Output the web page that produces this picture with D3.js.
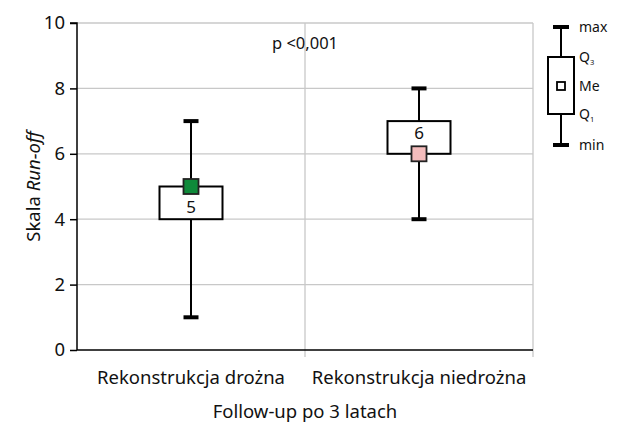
<!DOCTYPE html>
<html>
<head>
<meta charset="utf-8">
<script src="https://cdn.jsdelivr.net/npm/d3@7"></script>
<style>
  body { margin: 0; background: #fff; }
  svg text { font-family: "Noto Sans", "Open Sans", sans-serif; fill: #111; }
</style>
</head>
<body>
<svg id="chart" width="619" height="424"></svg>
<script>
// Run-off scale after 3 years of follow-up
const categories = ["Rekonstrukcja drożna", "Rekonstrukcja niedrożna"];
const minValues = [1, 4];
const q1Values = [4, 6];
const medianValues = [5, 6];
const q3Values = [5, 7];
const maxValues = [7, 8];
const medianColors = ["#0f8a3a", "#f4bcbc"];
const yTicks = [0, 2, 4, 6, 8, 10];
const legendLabels = ["max", "Q3", "Me", "Q1", "min"];

const svg = d3.select("#chart");
const margin = { left: 77, right: 86, top: 23, bottom: 74 };
const W = 619, H = 424;

const x = d3.scaleBand().domain(categories).range([margin.left, W - margin.right]);
const y = d3.scaleLinear().domain([0, 10]).range([H - margin.bottom, margin.top]);

// grid
const grid = svg.append("g");
grid.selectAll("line.h").data(yTicks.filter(d => d > 0)).join("line")
  .attr("x1", margin.left).attr("x2", W - margin.right)
  .attr("y1", d => y(d)).attr("y2", d => y(d))
  .attr("stroke", "#c8c8c8").attr("stroke-width", 1.3);
const xEdges = [x.step() + margin.left, W - margin.right];
grid.selectAll("line.v").data(xEdges).join("line")
  .attr("x1", d => d).attr("x2", d => d)
  .attr("y1", margin.top).attr("y2", y(0) + 7)
  .attr("stroke", "#c8c8c8").attr("stroke-width", 1.3);

// y axis
const yAxis = svg.append("g").attr("transform", `translate(${margin.left},0)`)
  .call(d3.axisLeft(y).tickValues(yTicks).tickSize(7).tickPadding(5));
yAxis.select(".domain").attr("stroke", "#000").attr("stroke-width", 1.5).attr("d", `M-7,${y(10)}H0V${y(0)}`);
yAxis.selectAll(".tick line").attr("stroke", "#000").attr("stroke-width", 1.5);
yAxis.selectAll(".tick text").attr("font-size", 18.5).attr("font-family", null).style("fill", "#111");

// x axis line
svg.append("line").attr("x1", margin.left).attr("x2", W - margin.right)
  .attr("y1", y(0)).attr("y2", y(0)).attr("stroke", "#000").attr("stroke-width", 1.5);

// category labels
svg.selectAll("text.cat").data(categories).join("text")
  .attr("x", d => x(d) + x.bandwidth() / 2).attr("y", 384)
  .attr("text-anchor", "middle").attr("font-size", 18.5).text(d => d);

// axis titles
svg.append("text").attr("x", 305).attr("y", 418).attr("text-anchor", "middle")
  .attr("font-size", 18.5).text("Follow-up po 3 latach");
const yl = svg.append("text").attr("transform", `translate(40,${y(5)}) rotate(-90)`)
  .attr("text-anchor", "middle").attr("font-size", 18.5);
yl.append("tspan").text("Skala ");
yl.append("tspan").attr("font-style", "italic").text("Run-off");

svg.append("text").attr("x", 305).attr("y", 49).attr("text-anchor", "middle")
  .attr("font-size", 16.5).text("p <0,001");

// boxes
const boxW = 63, capW = 15, medS = 15;
const data = categories.map((c, i) => ({ c, min: minValues[i], q1: q1Values[i], med: medianValues[i], q3: q3Values[i], max: maxValues[i], col: medianColors[i] }));
const g = svg.selectAll("g.box").data(data).join("g")
  .attr("transform", d => `translate(${x(d.c) + x.bandwidth() / 2},0)`);
g.append("line").attr("y1", d => y(d.max)).attr("y2", d => y(d.min))
  .attr("stroke", "#000").attr("stroke-width", 2);
g.append("rect").attr("x", -boxW / 2).attr("width", boxW)
  .attr("y", d => y(d.q3)).attr("height", d => y(d.q1) - y(d.q3))
  .attr("fill", "#fff").attr("stroke", "#000").attr("stroke-width", 2);
g.selectAll("line.cap").data(d => [d.max, d.min]).join("line")
  .attr("x1", -capW / 2).attr("x2", capW / 2).attr("y1", v => y(v)).attr("y2", v => y(v))
  .attr("stroke", "#000").attr("stroke-width", 4);
g.append("rect").attr("x", -medS / 2).attr("width", medS)
  .attr("y", d => y(d.med) - medS / 2).attr("height", medS)
  .attr("fill", d => d.col).attr("stroke", "#222").attr("stroke-width", 1.8);
g.append("text").attr("text-anchor", "middle").attr("font-size", 17)
  .attr("y", d => (y(d.q1) + y(d.q3)) / 2 + 6 + (d.med === d.q3 ? 4 : -4))
  .text(d => d.med);

// key
const keyX = 561;
const keyY = [27, 57, 86, 114, 145];
const key = svg.append("g");
key.append("line").attr("x1", keyX).attr("x2", keyX).attr("y1", keyY[0]).attr("y2", keyY[4])
  .attr("stroke", "#000").attr("stroke-width", 2);
key.append("rect").attr("x", keyX - 13).attr("y", keyY[1]).attr("width", 26).attr("height", keyY[3] - keyY[1])
  .attr("fill", "#fff").attr("stroke", "#000").attr("stroke-width", 2);
key.selectAll("line.kc").data([keyY[0], keyY[4]]).join("line")
  .attr("x1", keyX - 8).attr("x2", keyX + 8).attr("y1", d => d).attr("y2", d => d)
  .attr("stroke", "#000").attr("stroke-width", 4);
key.append("rect").attr("x", keyX - 4).attr("y", keyY[2] - 4).attr("width", 8).attr("height", 8)
  .attr("fill", "#fff").attr("stroke", "#000").attr("stroke-width", 1.8);
key.selectAll("text").data(legendLabels).join("text")
  .attr("x", 579).attr("y", (d, i) => keyY[i] + 5).attr("font-size", 14)
  .each(function (d) {
    const t = d3.select(this);
    if (d.startsWith("Q")) {
      t.append("tspan").text("Q");
      t.append("tspan").attr("font-size", 7.5).attr("dy", 3).text(d === "Q3" ? "3" : "1");
    } else t.text(d);
  });
</script>
</body>
</html>
